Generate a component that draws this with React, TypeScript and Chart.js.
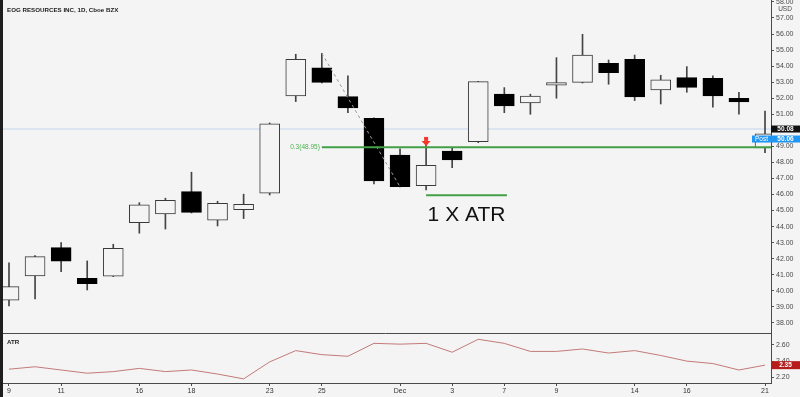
import React, { useEffect, useRef } from 'react';
import { Chart, registerables } from 'chart.js';

Chart.register(...registerables);

// ---------- data ----------
const titleText = 'EOG RESOURCES INC, 1D, Cboe BZX';
const dates = [
  'Nov 9', 'Nov 10', 'Nov 11', 'Nov 12', 'Nov 13', 'Nov 16', 'Nov 17', 'Nov 18', 'Nov 19', 'Nov 20',
  'Nov 23', 'Nov 24', 'Nov 25', 'Nov 27', 'Nov 30', 'Dec 1', 'Dec 2', 'Dec 3', 'Dec 4', 'Dec 7',
  'Dec 8', 'Dec 9', 'Dec 10', 'Dec 11', 'Dec 14', 'Dec 15', 'Dec 16', 'Dec 17', 'Dec 18', 'Dec 21',
];
const tickIndices = [0, 2, 5, 7, 10, 12, 15, 17, 19, 21, 24, 26, 29];
const tickLabels = ['9', '11', '16', '18', '23', '25', 'Dec', '3', '7', '9', '14', '16', '21'];

const opens = [
  39.41, 40.93, 42.69, 40.78, 40.91, 44.25, 44.79, 46.18, 44.40, 45.06,
  46.08, 52.14, 53.90, 52.10, 50.75, 48.46, 46.55, 48.71, 49.29, 52.26,
  51.70, 52.81, 52.99, 54.18, 54.43, 52.51, 53.28, 53.24, 52.00, 48.90,
];
const highs = [
  41.74, 42.19, 43.00, 41.86, 42.90, 45.49, 45.77, 47.39, 45.58, 46.02,
  50.46, 54.74, 54.80, 53.39, 50.77, 48.84, 49.09, 48.94, 53.05, 52.66,
  52.25, 54.53, 55.98, 54.38, 54.69, 53.43, 53.97, 53.39, 52.37, 51.20,
];
const lows = [
  39.06, 39.49, 41.19, 40.05, 40.88, 43.59, 43.85, 44.85, 44.04, 44.50,
  45.97, 51.79, 52.95, 51.10, 46.66, 46.48, 46.28, 47.67, 49.23, 51.10,
  51.00, 52.00, 52.95, 52.87, 51.85, 51.64, 52.37, 51.44, 51.00, 48.60,
];
const closes = [
  40.26, 42.13, 41.84, 40.45, 42.65, 45.35, 45.64, 44.89, 45.45, 45.39,
  50.40, 54.43, 52.99, 51.39, 46.84, 46.49, 47.82, 48.15, 53.03, 51.52,
  52.14, 52.97, 54.69, 53.59, 52.08, 53.14, 52.68, 52.14, 51.77, 49.78,
];
const atrValues = [
  2.30, 2.33, 2.29, 2.25, 2.27, 2.31, 2.27, 2.29, 2.24, 2.18,
  2.39, 2.53, 2.48, 2.46, 2.62, 2.61, 2.62, 2.51, 2.67, 2.62,
  2.52, 2.52, 2.55, 2.50, 2.53, 2.47, 2.40, 2.37, 2.29, 2.35,
];

const lastPrice = 50.08;
const postPrice = 50.06;
const fibLevel = 48.95;
const fibLabel = '0.3(48.95)';
const fibStartIndex = 12;
const trendStartIndex = 12;
const trendEndIndex = 15;
const atrLevel = 45.95;
const atrStartIndex = 16;
const atrEndIndex = 19.1;
const arrowIndex = 16;
const atrCaption = '1 X ATR';

// ---------- styles ----------
const BG = '#f4f4f4';
const FONT = "'Liberation Sans', Arial, sans-serif";
const X_MIN = -0.345;
const X_MAX = 29.23;

export default function App() {
  const ref = useRef<HTMLCanvasElement | null>(null);

  useEffect(() => {
    const canvas = ref.current;
    if (!canvas) return;

    const bodies = opens.map((o, i) => ({ x: i, y: [o, closes[i]] }));
    const wicks = lows.map((l, i) => ({ x: i, y: [l, highs[i]] }));
    const isUp = opens.map((o, i) => closes[i] >= o);

    const overlay = {
      id: 'overlay',
      beforeDraw(chart: any) {
        const { ctx, width, height } = chart;
        ctx.save();
        ctx.fillStyle = BG;
        ctx.fillRect(0, 0, width, height);
        ctx.restore();
      },
      afterDraw(chart: any) {
        const { ctx, chartArea } = chart;
        const xs = chart.scales.x;
        const ys = chart.scales.y;
        const ya = chart.scales.yATR;
        ctx.save();

        // panel separator
        ctx.strokeStyle = '#4a4a4a';
        ctx.lineWidth = 1;
        const sy = Math.round(ya.top) + 0.5;
        ctx.beginPath();
        ctx.moveTo(chartArea.left, sy);
        ctx.lineTo(chartArea.right, sy);
        ctx.stroke();

        // left frame
        ctx.fillStyle = '#1e1e1e';
        ctx.fillRect(0, 0, 3, chart.height);

        // title
        ctx.fillStyle = '#222';
        ctx.font = `bold 6.2px ${FONT}`;
        ctx.textAlign = 'left';
        ctx.textBaseline = 'middle';
        ctx.fillText(titleText, 7, 10);
        ctx.fillText('ATR', 7, ya.top + 9);

        // USD
        ctx.fillStyle = BG;
        ctx.fillRect(chartArea.right + 1, 5, 27, 8);
        ctx.fillStyle = '#4a4a4a';
        ctx.font = `6.5px ${FONT}`;
        ctx.textAlign = 'center';
        ctx.fillText('USD', 785, 9);

        // fib label
        ctx.fillStyle = '#4caf50';
        ctx.font = `6.5px ${FONT}`;
        ctx.textAlign = 'right';
        ctx.fillText(fibLabel, xs.getPixelForValue(fibStartIndex) - 2, ys.getPixelForValue(fibLevel));

        // 1 X ATR
        ctx.fillStyle = '#111';
        ctx.font = `21px ${FONT}`;
        ctx.textAlign = 'center';
        ctx.textBaseline = 'alphabetic';
        const cx = (xs.getPixelForValue(atrStartIndex) + xs.getPixelForValue(atrEndIndex)) / 2;
        ctx.fillText(atrCaption, cx, ys.getPixelForValue(atrLevel) + 26);

        // red arrow above candle
        const ax = xs.getPixelForValue(arrowIndex);
        const tip = ys.getPixelForValue(highs[arrowIndex]) + 1;
        ctx.fillStyle = '#f0392b';
        ctx.fillRect(ax - 2, tip - 9, 4, 4);
        ctx.beginPath();
        ctx.moveTo(ax - 4.5, tip - 5);
        ctx.lineTo(ax + 4.5, tip - 5);
        ctx.lineTo(ax, tip);
        ctx.closePath();
        ctx.fill();

        // price labels on the axis
        const right = chartArea.right;
        ctx.font = `bold 6.5px ${FONT}`;
        ctx.textBaseline = 'middle';
        const yl = ys.getPixelForValue(lastPrice);
        ctx.fillStyle = '#111';
        ctx.fillRect(right, yl - 3.5, 29, 7);
        ctx.fillStyle = '#fff';
        ctx.textAlign = 'center';
        ctx.fillText(lastPrice.toFixed(2), right + 14.5, yl);

        const yp = yl + 10;
        ctx.fillStyle = '#2196f3';
        ctx.fillRect(right, yp - 3.5, 29, 7);
        ctx.fillRect(right - 19, yp - 3.5, 19, 7);
        ctx.fillStyle = '#fff';
        ctx.fillText(postPrice.toFixed(2), right + 14.5, yp);
        ctx.font = `6.5px ${FONT}`;
        ctx.fillText('Post', right - 9.5, yp);

        const yv = ya.getPixelForValue(atrValues[atrValues.length - 1]);
        ctx.fillStyle = '#b71c1c';
        ctx.fillRect(right, yv - 4, 29, 8);
        ctx.fillStyle = '#fff';
        ctx.font = `bold 6.5px ${FONT}`;
        ctx.fillText(atrValues[atrValues.length - 1].toFixed(2), right + 14.5, yv);

        ctx.restore();
      },
    };

    const yTickCommon = {
      color: '#4a4a4a',
      font: { family: FONT, size: 7 },
      padding: 2,
      autoSkip: false,
      includeBounds: false,
      callback: (v: number) => Number(v).toFixed(2),
    };
    const fixY = (s: any) => {
      s.width = 29;
      s.paddingTop = 0;
      s.paddingBottom = 0;
    };

    const chart = new Chart(canvas, {
      type: 'bar',
      data: {
        datasets: [
          {
            type: 'line',
            label: 'last',
            data: [{ x: X_MIN, y: lastPrice }, { x: X_MAX, y: lastPrice }],
            borderColor: '#c6d5ee',
            borderWidth: 1,
            pointRadius: 0,
            yAxisID: 'y',
            order: 5,
          } as any,
          {
            type: 'bar',
            label: 'wicks',
            data: wicks as any,
            yAxisID: 'y',
            barThickness: 1,
            backgroundColor: '#444',
            borderWidth: 0,
            grouped: false,
            order: 4,
          } as any,
          {
            type: 'bar',
            label: 'bodies',
            data: bodies as any,
            yAxisID: 'y',
            barThickness: 20,
            backgroundColor: isUp.map((u) => (u ? BG : '#000')),
            borderColor: isUp.map((u) => (u ? '#3a3a3a' : '#000')),
            borderWidth: 1,
            borderSkipped: false,
            grouped: false,
            order: 3,
          } as any,
          {
            type: 'line',
            label: 'trend',
            data: [
              { x: trendStartIndex, y: highs[trendStartIndex] },
              { x: trendEndIndex, y: lows[trendEndIndex] },
            ],
            borderColor: '#9a9a9a',
            borderDash: [3, 3],
            borderWidth: 1,
            pointRadius: 0,
            yAxisID: 'y',
            order: 1,
          } as any,
          {
            type: 'line',
            label: 'fib',
            data: [{ x: fibStartIndex, y: fibLevel }, { x: X_MAX, y: fibLevel }],
            borderColor: '#43a047',
            borderWidth: 2,
            pointRadius: 0,
            yAxisID: 'y',
            order: 0,
          } as any,
          {
            type: 'line',
            label: 'atrRange',
            data: [{ x: atrStartIndex, y: atrLevel }, { x: atrEndIndex, y: atrLevel }],
            borderColor: '#43a047',
            borderWidth: 2,
            pointRadius: 0,
            yAxisID: 'y',
            order: 0,
          } as any,
          {
            type: 'line',
            label: 'ATR',
            data: atrValues.map((v, i) => ({ x: i, y: v })),
            borderColor: '#c47a7a',
            borderWidth: 1,
            pointRadius: 0,
            tension: 0,
            yAxisID: 'yATR',
            order: 0,
          } as any,
        ],
      },
      options: {
        animation: false,
        responsive: false,
        devicePixelRatio: 1,
        layout: { padding: 0 },
        plugins: {
          legend: { display: false },
          tooltip: { enabled: false },
          title: { display: false },
        },
        scales: {
          x: {
            type: 'linear',
            min: X_MIN,
            max: X_MAX,
            offset: false,
            grid: { display: true, drawOnChartArea: false, drawTicks: true, tickLength: 3, color: '#4a4a4a', offset: false },
            border: { display: true, color: '#4a4a4a' },
            ticks: {
              color: '#333',
              font: { family: FONT, size: 7 },
              padding: 1,
              maxRotation: 0,
              autoSkip: false,
              callback: (v: number) => {
                const k = tickIndices.indexOf(Number(v));
                return k >= 0 ? tickLabels[k] : null;
              },
            },
            afterBuildTicks: (s: any) => {
              s.ticks = tickIndices.map((v) => ({ value: v }));
            },
            afterFit: (s: any) => {
              s.height = 14;
              s.paddingLeft = 0;
              s.paddingRight = 0;
            },
          } as any,
          y: {
            type: 'linear',
            position: 'right',
            stack: 'panes',
            stackWeight: 333,
            min: 37.37,
            max: 58.12,
            grid: { display: true, drawOnChartArea: false, drawTicks: true, tickLength: 3, color: '#555' },
            border: { display: true, color: '#4a4a4a' },
            ticks: { ...yTickCommon, stepSize: 1 },
            afterFit: fixY,
          } as any,
          yATR: {
            type: 'linear',
            position: 'right',
            stack: 'panes',
            stackWeight: 50,
            min: 2.129,
            max: 2.748,
            grid: { display: true, drawOnChartArea: false, drawTicks: true, tickLength: 3, color: '#555' },
            border: { display: true, color: '#4a4a4a' },
            ticks: { ...yTickCommon, stepSize: 0.2 },
            afterFit: fixY,
          } as any,
        },
      },
      plugins: [overlay],
    });

    return () => chart.destroy();
  }, []);

  return (
    <div style={{ position: 'fixed', left: 0, top: 0, width: 800, height: 397, background: BG }}>
      <canvas ref={ref} width={800} height={397} style={{ display: 'block', width: 800, height: 397 }} />
    </div>
  );
}
